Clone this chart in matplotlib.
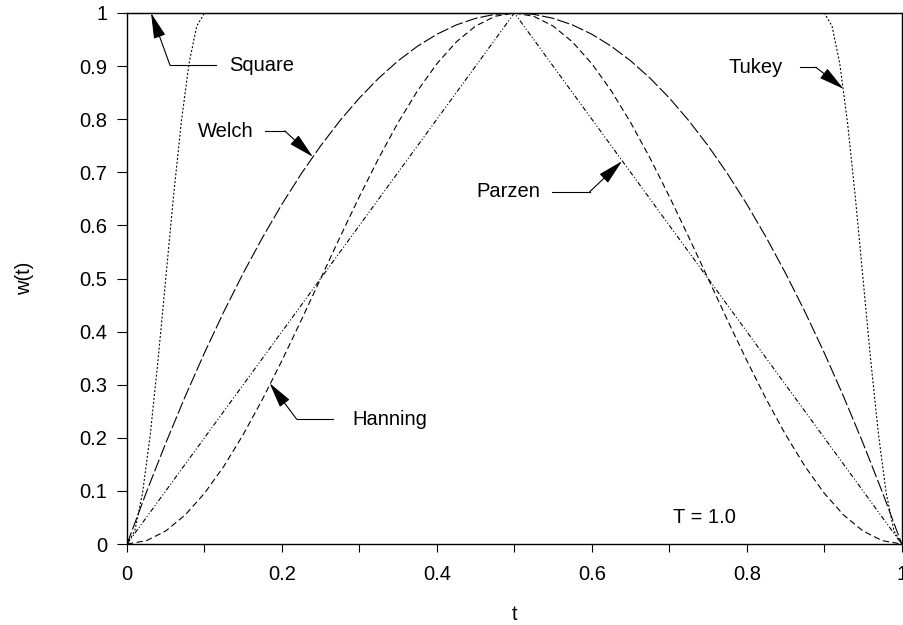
import matplotlib
matplotlib.use("Agg")
import matplotlib.pyplot as plt

plt.rcParams['font.family'] = ['Liberation Sans', 'DejaVu Sans']
plt.rcParams['font.size'] = 14.5
plt.rcParams['lines.scale_dashes'] = False

# ventanas sobre t en [0, 1], T = 1.0
t_welch = [0.0, 0.025, 0.05, 0.075, 0.1, 0.125, 0.15, 0.175, 0.2, 0.225, 0.25,
           0.275, 0.3, 0.325, 0.35, 0.375, 0.4, 0.425, 0.45, 0.475, 0.5,
           0.525, 0.55, 0.575, 0.6, 0.625, 0.65, 0.675, 0.7, 0.725, 0.75,
           0.775, 0.8, 0.825, 0.85, 0.875, 0.9, 0.925, 0.95, 0.975, 1.0]
w_welch = [0.0, 0.0975, 0.19, 0.2775, 0.36, 0.4375, 0.51, 0.5775, 0.64, 0.6975, 0.75,
           0.7975, 0.84, 0.8775, 0.91, 0.9375, 0.96, 0.9775, 0.99, 0.9975, 1.0,
           0.9975, 0.99, 0.9775, 0.96, 0.9375, 0.91, 0.8775, 0.84, 0.7975, 0.75,
           0.6975, 0.64, 0.5775, 0.51, 0.4375, 0.36, 0.2775, 0.19, 0.0975, 0.0]

t_hanning = t_welch
w_hanning = [0.0, 0.0062, 0.0245, 0.0545, 0.0955, 0.1464, 0.2061, 0.273, 0.3455, 0.4218, 0.5,
             0.5782, 0.6545, 0.727, 0.7939, 0.8536, 0.9045, 0.9455, 0.9755, 0.9938, 1.0,
             0.9938, 0.9755, 0.9455, 0.9045, 0.8536, 0.7939, 0.727, 0.6545, 0.5782, 0.5,
             0.4218, 0.3455, 0.273, 0.2061, 0.1464, 0.0955, 0.0545, 0.0245, 0.0062, 0.0]

t_parzen = [0.0, 0.5, 1.0]
w_parzen = [0.0, 1.0, 0.0]

t_tukey = [0.0, 0.01, 0.02, 0.03, 0.04, 0.05, 0.06, 0.07, 0.08, 0.09, 0.1,
           0.9, 0.91, 0.92, 0.93, 0.94, 0.95, 0.96, 0.97, 0.98, 0.99, 1.0]
w_tukey = [0.0, 0.0245, 0.0955, 0.2061, 0.3455, 0.5, 0.6545, 0.7939, 0.9045, 0.9755, 1.0,
           1.0, 0.9755, 0.9045, 0.7939, 0.6545, 0.5, 0.3455, 0.2061, 0.0955, 0.0245, 0.0]

t_square = [0.0, 1.0]
w_square = [1.0, 1.0]

x_ticks = [0.0, 0.2, 0.4, 0.6, 0.8, 1.0]
x_labels = ['0', '0.2', '0.4', '0.6', '0.8', '1']
x_minor = [0.1, 0.3, 0.5, 0.7, 0.9]
y_ticks = [0.0, 0.1, 0.2, 0.3, 0.4, 0.5, 0.6, 0.7, 0.8, 0.9, 1.0]
y_labels = ['0', '0.1', '0.2', '0.3', '0.4', '0.5', '0.6', '0.7', '0.8', '0.9', '1']

# etiquetas: (texto, posicion del texto, inicio de la linea, codo, punta de flecha, alineacion)
etiquetas = [
    ("Square", (0.1314, 0.902), (0.1147, 0.902), (0.0554, 0.902), (0.031, 1.0), "left"),
    ("Welch", (0.163, 0.776), (0.178, 0.778), (0.2036, 0.778), (0.24, 0.729), "right"),
    ("Hanning", (0.291, 0.235), (0.2655, 0.235), (0.219, 0.235), (0.184, 0.303), "left"),
    ("Parzen", (0.5333, 0.663), (0.548, 0.663), (0.597, 0.663), (0.639, 0.721), "right"),
    ("Tukey", (0.8458, 0.898), (0.8686, 0.898), (0.889, 0.898), (0.925, 0.857), "right"),
]

fig = plt.figure(figsize=(9.04, 6.25), dpi=100)
ax = fig.add_axes([0.1405, 0.1296, 0.857, 0.8496])

ax.plot(t_square, w_square, color='black', lw=0.8, clip_on=False)
ax.plot(t_welch, w_welch, color='black', lw=0.8, dashes=(9, 2.2))
ax.plot(t_hanning, w_hanning, color='black', lw=0.8, dashes=(4.5, 2.5))
ax.plot(t_parzen, w_parzen, color='black', lw=0.8, dashes=(3.5, 1.5, 0.8, 1.5, 0.8, 1.5))
ax.plot(t_tukey, w_tukey, color='black', lw=0.8, dashes=(1.4, 1.4))

for texto, pos_txt, ini, codo, punta, ha in etiquetas:
    ax.plot([ini[0], codo[0]], [ini[1], codo[1]], color='black', lw=0.8)
    ax.annotate('', xy=punta, xytext=codo,
                arrowprops=dict(arrowstyle='-|>,head_length=1.1,head_width=0.26',
                                color='black', lw=0.8, shrinkA=0, shrinkB=0))
    ax.text(pos_txt[0], pos_txt[1], texto, ha=ha, va='center')

ax.text(0.745, 0.049, "T = 1.0", ha='center', va='center')

ax.set_xlim(0, 1)
ax.set_ylim(0, 1)
ax.set_xticks(x_ticks, x_labels)
ax.set_xticks(x_minor, minor=True)
ax.set_yticks(y_ticks, y_labels)
ax.tick_params(axis='y', direction='out', length=7, width=0.8, pad=7)
ax.tick_params(axis='x', which='both', direction='out', length=6, width=0.8, pad=9)
for s in ax.spines.values():
    s.set_linewidth(1.0)

ax.set_xlabel('t', labelpad=15)
ax.set_ylabel('w(t)', labelpad=33)

fig.savefig('out.png', dpi=100)
